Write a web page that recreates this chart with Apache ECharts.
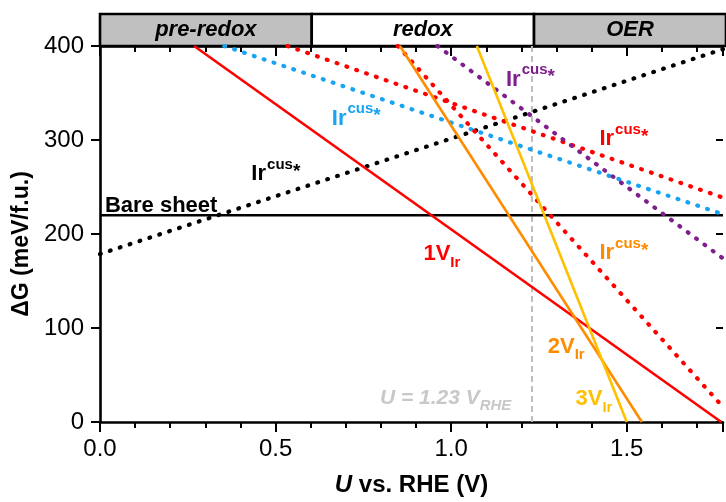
<!DOCTYPE html>
<html><head><meta charset="utf-8">
<script src="https://cdn.jsdelivr.net/npm/echarts@6/dist/echarts.min.js"></script>
<style>html,body{margin:0;padding:0;background:#fff}#c{width:726px;height:502px}</style>
</head><body><div id="c"></div>
<script>
// ---------- data ----------
const X_MAX = 1.774;
const xMajorTicks = [0, 0.5, 1.0, 1.5];
const yTicks = [0, 100, 200, 300, 400];
const phaseNames = ['pre-redox', 'redox', 'OER'];
const phaseBounds = [0, 0.6, 1.23, 1.9];
const rheVoltage = 1.23;

const bareSheet     = [[0, 220], [X_MAX, 220]];
const irCusBlack    = [[0, 178.7], [X_MAX, 396.7]];
const irCusBlue     = [[0.354, 400], [X_MAX, 221]];
const irCusRed      = [[0.534, 400], [X_MAX, 238.7]];
const irCusRedSteep = [[0.848, 400], [X_MAX, 16]];
const irCusPurple   = [[0.961, 400], [X_MAX, 174]];
const v1Ir          = [[0.268, 400], [1.769, 0]];
const v2Ir          = [[0.854, 400], [1.543, 0]];
const v3Ir          = [[1.073, 400], [1.500, 0]];

// annotation anchors (data coords: left edge, vertical middle)
const annoText = ['Bare sheet', 'Ir^cus*', 'Ir^cus*', 'Ir^cus*', 'Ir^cus*', 'Ir^cus*', '1V_Ir', '2V_Ir', '3V_Ir', 'U = 1.23 V_RHE'];
const annoX    = [0.014, 0.431, 0.660, 1.156, 1.422, 1.422, 0.921, 1.275, 1.354, 0.797];
const annoY    = [232, 265.6, 325, 366.4, 303, 181.6, 180.6, 82.4, 26.2, 26.8];
const annoKey  = ['black', 'black', 'blue', 'purple', 'red', 'orange', 'red', 'orange', 'gold', 'gray'];

// ---------- styles ----------
const FONT = 'Liberation Sans';
const C = {black:'#000000', blue:'#18A4F2', red:'#FF0000', orange:'#FF8C00', gold:'#FFC000', purple:'#7E1F8C', gray:'#C8C8C8'};

function dotted(name, data, color) {
  return {name, type:'line', data, showSymbol:false, symbol:'none', silent:true,
    lineStyle:{color, width:4.2, type:[0.8, 9.6], cap:'round'}, z:3};
}
function solid(name, data, color, w) {
  return {name, type:'line', data, showSymbol:false, symbol:'none', silent:true,
    lineStyle:{color, width:w || 2.6, type:'solid'}, z:3};
}

function fmtAnno(t) {
  if (t.indexOf('^') >= 0) {
    const [b, s] = t.split('^');
    return '{b|' + b + '}{sup|' + s.replace('*','') + '}{star|*}';
  }
  if (t.indexOf('U = ') === 0) {
    const [b, s] = t.split('_');
    return '{g|' + b + '}{gs|' + s + '}';
  }
  if (t.indexOf('_') >= 0) {
    const [b, s] = t.split('_');
    return '{b|' + b + '}{sub|' + s + '}';
  }
  return '{b|' + t + '}';
}

const annoSeries = annoText.map((t, i) => {
  const col = C[annoKey[i]];
  return {
    type:'scatter', data:[[annoX[i], annoY[i]]], symbolSize:0, silent:true, z:10,
    itemStyle:{opacity:1, color:col},
    label:{show:true, opacity:1, position:'right', distance:0, formatter:fmtAnno(t), color:col,
      rich:{
        b:{fontFamily:FONT, fontWeight:'bold', fontSize:22, color:col, lineHeight:26, verticalAlign:'bottom'},
        sup:{fontFamily:FONT, fontWeight:'bold', fontSize:15, color:col, lineHeight:26, verticalAlign:'top', padding:[-2,0,0,1]},
        star:{fontFamily:FONT, fontWeight:'bold', fontSize:19, color:col, lineHeight:26, verticalAlign:'top', padding:[3,0,0,0]},
        sub:{fontFamily:FONT, fontWeight:'bold', fontSize:15, color:col, lineHeight:26, verticalAlign:'bottom', padding:[0,0,-5,0]},
        g:{fontFamily:FONT, fontWeight:'bold', fontStyle:'italic', fontSize:21, color:col, lineHeight:24, verticalAlign:'bottom'},
        gs:{fontFamily:FONT, fontWeight:'bold', fontStyle:'italic', fontSize:15, color:col, lineHeight:24, verticalAlign:'bottom', padding:[0,0,-5,0]}
      }}
  };
});

const chart = echarts.init(document.getElementById('c'), null, {renderer:'canvas'});
const option = {
  animation:false,
  backgroundColor:'#ffffff',
  grid:[
    {left:100, right:0, top:46, bottom:75, containLabel:false},
    {left:100, right:0, top:14, height:32, containLabel:false}
  ],
  xAxis:[
    { // bottom major
      type:'value', gridIndex:0, position:'bottom', min:0, max:X_MAX, interval:0.5,
      axisLine:{show:true, onZero:false, lineStyle:{color:'#000', width:2.6}},
      axisTick:{show:true, inside:false, length:10, lineStyle:{color:'#000', width:2}},
      axisLabel:{show:true, fontFamily:FONT, fontSize:24, color:'#000', margin:15,
        formatter:v => xMajorTicks.some(t => Math.abs(t - v) < 1e-6) ? v.toFixed(1) : ''},
      splitLine:{show:false},
      name:'{i|U}{n| vs. RHE (V)}', nameLocation:'middle', nameGap:51,
      nameTextStyle:{rich:{
        i:{fontFamily:FONT, fontWeight:'bold', fontStyle:'italic', fontSize:24, color:'#000'},
        n:{fontFamily:FONT, fontWeight:'bold', fontSize:24, color:'#000'}}}
    },
    { // bottom minor
      type:'value', gridIndex:0, position:'bottom', min:0, max:X_MAX, interval:0.1,
      axisLine:{show:false, onZero:false}, axisTick:{show:true, inside:false, length:6, lineStyle:{color:'#000', width:2}},
      axisLabel:{show:false}, splitLine:{show:false}
    },
    { // top major
      type:'value', gridIndex:0, position:'top', min:0, max:X_MAX, interval:0.5,
      axisLine:{show:true, onZero:false, lineStyle:{color:'#000', width:2.6}},
      axisTick:{show:true, inside:true, length:10, lineStyle:{color:'#000', width:2}},
      axisLabel:{show:false}, splitLine:{show:false}
    },
    { // top minor
      type:'value', gridIndex:0, position:'top', min:0, max:X_MAX, interval:0.1,
      axisLine:{show:false, onZero:false}, axisTick:{show:true, inside:true, length:6, lineStyle:{color:'#000', width:2}},
      axisLabel:{show:false}, splitLine:{show:false}
    },
    { // header band
      type:'value', gridIndex:1, min:0, max:X_MAX, show:false
    }
  ],
  yAxis:[
    {
      type:'value', gridIndex:0, position:'left', min:0, max:400, interval:100,
      axisLine:{show:true, onZero:false, lineStyle:{color:'#000', width:2.6}},
      axisTick:{show:true, inside:false, length:9, lineStyle:{color:'#000', width:2}},
      axisLabel:{show:true, fontFamily:FONT, fontSize:24, color:'#000', margin:16,
        formatter:v => yTicks.indexOf(v) >= 0 ? String(v) : ''},
      splitLine:{show:false},
      name:'ΔG (meV/f.u.)', nameLocation:'middle', nameGap:52,
      nameTextStyle:{fontFamily:FONT, fontWeight:'bold', fontSize:23, color:'#000', padding:[0,20,0,0]}
    },
    {
      type:'value', gridIndex:0, position:'right', min:0, max:400, interval:100,
      axisLine:{show:true, onZero:false, lineStyle:{color:'rgba(0,0,0,0)', width:0}},
      axisTick:{show:true, inside:true, length:7, lineStyle:{color:'#000', width:2}},
      axisLabel:{show:false}, splitLine:{show:false}
    },
    {type:'value', gridIndex:1, min:0, max:1, show:false}
  ],
  series:[
    { // header phases
      type:'line', xAxisIndex:4, yAxisIndex:2, data:[[0,0]], showSymbol:false, symbol:'none', silent:true,
      lineStyle:{opacity:0},
      markArea:{silent:true,
        itemStyle:{borderColor:'#000', borderWidth:2.6},
        label:{show:true, position:'inside', fontFamily:FONT, fontWeight:'bold', fontStyle:'italic', fontSize:22, color:'#000'},
        data:phaseNames.map((n, i) => [
          {name:n, xAxis:phaseBounds[i], yAxis:0, itemStyle:{color: i === 1 ? '#ffffff' : '#C0C0C0'}},
          {xAxis:phaseBounds[i+1], yAxis:1}
        ])}
    },
    { // U = 1.23 V_RHE dashed line
      type:'line', data:[[rheVoltage, 0], [rheVoltage, 400]], showSymbol:false, symbol:'none', silent:true, z:1,
      lineStyle:{color:'#BEBEBE', width:2, type:[6, 4]}
    },
    solid('Bare sheet', bareSheet, C.black, 2.6),
    dotted('Ir cus black', irCusBlack, C.black),
    dotted('Ir cus blue', irCusBlue, C.blue),
    dotted('Ir cus red', irCusRed, C.red),
    dotted('Ir cus red steep', irCusRedSteep, C.red),
    dotted('Ir cus purple', irCusPurple, C.purple),
    solid('1V_Ir', v1Ir, C.red),
    solid('2V_Ir', v2Ir, C.orange),
    solid('3V_Ir', v3Ir, C.gold),
    ...annoSeries
  ]
};
chart.setOption(option);
</script>
</body></html>
